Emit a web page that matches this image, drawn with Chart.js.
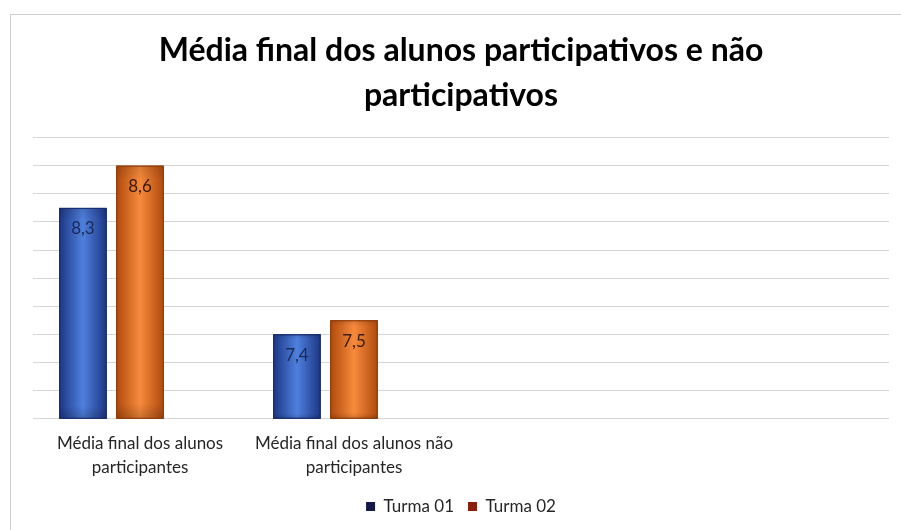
<!DOCTYPE html>
<html>
<head>
<meta charset="utf-8">
<script src="https://cdn.jsdelivr.net/npm/chart.js@4"></script>
<style>
  html, body { margin: 0; padding: 0; background: #fff; }
  #frame {
    position: absolute; left: 10px; top: 14px;
    width: 890px; height: 515px;
    border-left: 1px solid #cfcfcf; border-top: 1px solid #cfcfcf;
  }
</style>
</head>
<body>
<div id="frame"><canvas id="chart" width="890" height="515"></canvas></div>
<script>
const categories = [
  ['Média final dos alunos', 'participantes'],
  ['Média final dos alunos não', 'participantes'],
  '',
  ''
];
const turma01 = [8.3, 7.4, null, null];
const turma02 = [8.6, 7.5, null, null];
const emptySlot = [null, null, null, null];

const BLUE = ['#1c3684', '#4f80de'];
const ORANGE = ['#b04a0c', '#f78a3c'];

// repaint each bar with a horizontal gradient (dark edges, light middle)
// and write its value inside, near the top
const barPaint = {
  id: 'barPaint',
  afterDatasetsDraw(chart) {
    const ctx = chart.ctx;
    const area = chart.chartArea;
    ctx.save();
    chart.data.datasets.forEach((ds, i) => {
      if (!ds.shade) return;
      chart.getDatasetMeta(i).data.forEach((bar, j) => {
        const v = ds.data[j];
        if (v == null) return;
        const left = bar.x - bar.width / 2;
        const bottom = Math.min(bar.base, area.bottom);
        const h = bottom - bar.y;
        const g = ctx.createLinearGradient(left, 0, left + bar.width, 0);
        g.addColorStop(0, ds.shade[0]);
        g.addColorStop(0.5, ds.shade[1]);
        g.addColorStop(1, ds.shade[0]);
        ctx.fillStyle = g;
        ctx.fillRect(left, bar.y, bar.width, h);
        const gv = ctx.createLinearGradient(0, bar.y, 0, bottom);
        gv.addColorStop(0, 'rgba(0,0,0,0.12)');
        gv.addColorStop(0.06, 'rgba(0,0,0,0)');
        gv.addColorStop(0.94, 'rgba(0,0,0,0)');
        gv.addColorStop(1, 'rgba(0,0,0,0.18)');
        ctx.fillStyle = gv;
        ctx.fillRect(left, bar.y, bar.width, h);
        ctx.strokeStyle = ds.edge;
        ctx.lineWidth = 1;
        ctx.strokeRect(left + 0.5, bar.y + 0.5, bar.width - 1, h - 1);
        ctx.font = '17px Lato';
        ctx.textAlign = 'center';
        ctx.textBaseline = 'middle';
        ctx.fillStyle = ds.textColor;
        ctx.fillText(v.toFixed(1).replace('.', ','), bar.x, bar.y + 21);
      });
    });
    ctx.restore();
  }
};

new Chart(document.getElementById('chart'), {
  type: 'bar',
  data: {
    labels: categories,
    datasets: [
      {
        label: 'Turma 01',
        data: turma01,
        shade: BLUE,
        edge: '#16296a',
        textColor: '#1b2a55',
        backgroundColor: '#141848',
        categoryPercentage: 0.8,
        barPercentage: 0.83,
      },
      {
        label: 'Turma 02',
        data: turma02,
        shade: ORANGE,
        edge: '#8e3a08',
        textColor: '#3a1a08',
        backgroundColor: '#8c1e0c',
        categoryPercentage: 0.8,
        barPercentage: 0.83,
      },
      {
        label: '',
        data: emptySlot,
        categoryPercentage: 0.8,
        barPercentage: 0.83,
      }
    ]
  },
  options: {
    responsive: false,
    animation: false,
    layout: { padding: { left: 22, right: 12, top: 0, bottom: 5 } },
    scales: {
      x: {
        grid: { display: false },
        border: { display: false },
        ticks: {
          color: '#262626',
          font: { family: 'Lato', size: 17, lineHeight: 1.45 },
          maxRotation: 0,
          autoSkip: false,
          padding: 4,
        }
      },
      y: {
        min: 6.8,
        max: 8.8,
        grid: { color: '#d6d6d6', drawTicks: false, lineWidth: 1 },
        border: { display: false },
        ticks: { display: false, stepSize: 0.2 }
      }
    },
    plugins: {
      title: {
        display: true,
        text: ['Média final dos alunos participativos e não', 'participativos'],
        color: '#000',
        font: { family: 'Lato', size: 32, weight: 'bold', lineHeight: 1.4 },
        padding: { top: 13, bottom: 20 }
      },
      legend: {
        position: 'bottom',
        labels: {
          filter: item => item.text !== '',
          color: '#262626',
          font: { family: 'Lato', size: 17 },
          boxWidth: 9,
          boxHeight: 9,
          padding: 14,
        }
      },
      tooltip: { enabled: false }
    }
  },
  plugins: [barPaint]
});
</script>
</body>
</html>
